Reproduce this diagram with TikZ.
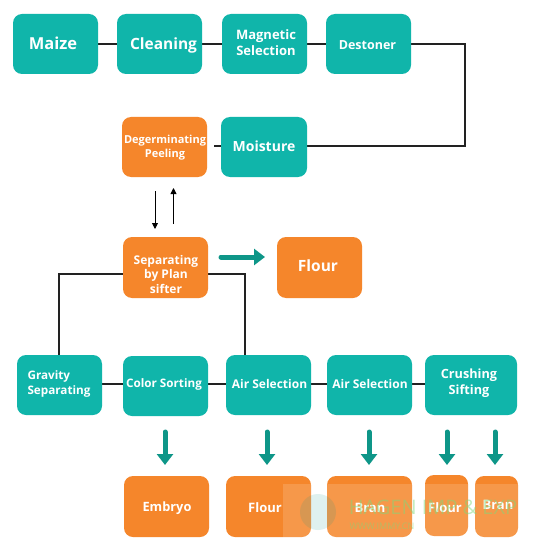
\documentclass[tikz,border=0pt]{standalone}
\usepackage{fontspec}
\setmainfont{Open Sans}[BoldFont={Open Sans Bold}]
\usetikzlibrary{arrows.meta,calc}
\definecolor{tealbox}{HTML}{10B5AA}
\definecolor{orangebox}{HTML}{F5862B}
\definecolor{arrowteal}{HTML}{0E9688}
\definecolor{linedark}{HTML}{222222}
\definecolor{wmgreen}{HTML}{7FD97A}
\tikzset{
  x=1pt,y=-1pt,
  proc/.style={rounded corners=9pt,line width=0pt},
  link/.style={draw=linedark,line width=1.2pt},
  thin arrow/.style={draw=black,line width=0.9pt,-{Triangle[length=6pt,width=6pt]}},
  fat arrow/.style={draw=arrowteal,line width=5pt,line cap=round,-{Triangle[length=11pt,width=16pt]}}
}
% name, x0, y0, x1, y1, fill, font size, line height, text centre, text
\newcommand{\boxat}[9]{%
  \path[proc,fill=#6] (#2,#3) rectangle (#4,#5);
  \coordinate (#1nw) at (#2,#3);
  \coordinate (#1se) at (#4,#5);
  \def\tmpname{#1}\def\tmpsize{#7}\def\tmplead{#8}\def\tmppos{#9}%
  \boxtext
}
\newcommand{\boxtext}[2][center]{%
  \node[text=white,font=\fontsize{\tmpsize}{\tmplead}\selectfont\bfseries,align=#1,inner sep=0pt] (\tmpname) at (\tmppos) {#2};
}
\begin{document}
\begin{tikzpicture}
\useasboundingbox[fill=white] (0,0) rectangle (533,548);
% connectors first (behind boxes)
\coordinate (rt) at (465,44);
\coordinate (rb) at (465,146);
\coordinate (stub) at (214,146);
\coordinate (sl) at (59,274);
\coordinate (sr) at (245,274);
\draw[link] (55,44) -- (368,44);
\draw[link] (368,44) -- (rt) -- (rb) -- (264,146);
\draw[link] (stub) -- (264,146);
\draw[link] (165,274) -- (sl) -- (59,385);
\draw[link] (165,274) -- (sr) -- (245,385);
\draw[link] (59,384) -- (471,384);
% boxes
\boxat{maize}{13}{14}{98}{74}{tealbox}{16.5}{19}{53,43}{Maize}
\boxat{clean}{117}{14}{202}{74}{tealbox}{15.5}{18}{163.5,45}{Cleaning}
\boxat{magn}{222}{14}{307}{74}{tealbox}{13}{15.5}{266,42.5}{Magnetic\\Selection}
\boxat{dest}{326}{14}{411}{74}{tealbox}{12.5}{15}{367.5,45}{Destoner}
\boxat{degerm}{122}{117}{207}{177}{orangebox}{11}{13.5}{165,147.5}{Degerminating\\Peeling}
\boxat{moist}{221}{117}{307}{177}{tealbox}{14}{17}{264,146}{Moisture}
\boxat{sep}{123}{237}{208}{298}{orangebox}{12}{14.5}{166,274}{Separating\\by Plan\\sifter}
\boxat{flourA}{277}{237}{362}{298}{orangebox}{15.5}{18}{318,266}{Flour}
\boxat{grav}{17}{355}{102}{415}{tealbox}{11.7}{15}{59,383.5}[left]{Gravity\\Separating}
\boxat{color}{123}{356}{208}{416}{tealbox}{11.7}{14}{164,384}{Color Sorting}
\boxat{airA}{226}{355}{311}{415}{tealbox}{12}{14}{269.5,384}{Air Selection}
\boxat{airB}{327}{355}{412}{415}{tealbox}{12}{14}{370,384}{Air Selection}
\boxat{crush}{425}{355}{517}{415}{tealbox}{12.7}{16}{469,383}{Crushing\\Sifting}
\boxat{embryo}{124}{476}{209}{537}{orangebox}{12.8}{15}{167,508}{Embryo}
\boxat{flourB}{226}{476}{311}{537}{orangebox}{13}{15}{265,508}{Flour}
\boxat{branA}{327}{476}{412}{537}{orangebox}{13}{15}{370,508}{Bran}
\boxat{flourC}{425}{475}{468}{536}{orangebox}{13}{15}{445,508}{Flour}
\boxat{branB}{475}{476}{518}{537}{orangebox}{13}{15}{498,505}{Bran}
% arrows
\coordinate (da) at (155,191); \coordinate (db) at (155,229);
\coordinate (ua) at (173.5,224); \coordinate (ub) at (173.5,188);
\draw[thin arrow] (da) -- (db);
\draw[thin arrow] (ua) -- (ub);
\coordinate (fa) at (221,257); \coordinate (fb) at (265,257);
\draw[fat arrow] (fa) -- (fb);
\foreach \n/\x in {a/165,b/267,c/369,d/447,e/495}{
  \coordinate (s\n) at (\x,432);
  \coordinate (t\n) at (\x,465);
  \draw[fat arrow] (s\n) -- (t\n);
}
% watermark as printed in the reference
\fill[white,opacity=0.15] (283,484) rectangle (533,548);
\fill[arrowteal,opacity=0.13] (318,512) circle (18);
\node[text=wmgreen,opacity=0.5,font=\fontsize{20}{24}\selectfont,inner sep=0pt] (wm) at (433,507) {HAGEN IMP \& EXP};
\node[text=wmgreen,opacity=0.5,font=\fontsize{9}{11}\selectfont,inner sep=0pt] (wmb) at (382,526) {WWW.IMMY.CN};
\end{tikzpicture}
\end{document}
